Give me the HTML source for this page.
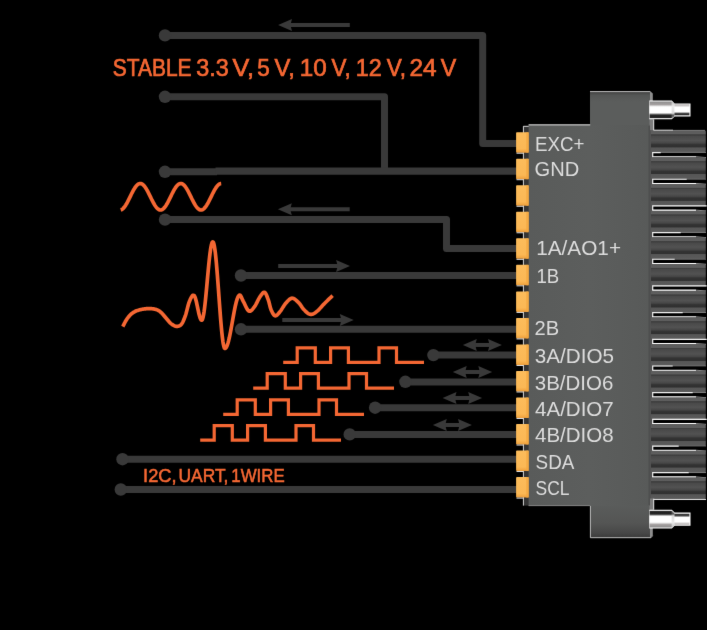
<!DOCTYPE html>
<html><head><meta charset="utf-8"><title>Connector pinout</title>
<style>html,body{margin:0;padding:0;background:#000;}body{width:707px;height:630px;overflow:hidden;}svg{display:block;}text{font-family:"Liberation Sans",sans-serif;}</style>
</head><body>
<svg width="707" height="630" viewBox="0 0 707 630">
<defs>
<linearGradient id="cab" x1="0" y1="0" x2="0" y2="1">
<stop offset="0" stop-color="#5c5c5c"/><stop offset="0.16" stop-color="#5e5e5e"/><stop offset="0.185" stop-color="#404040"/>
<stop offset="0.225" stop-color="#3f3f3f"/><stop offset="0.26" stop-color="#494949"/><stop offset="0.46" stop-color="#525252"/>
<stop offset="0.58" stop-color="#464646"/><stop offset="0.65" stop-color="#333333"/><stop offset="0.765" stop-color="#303030"/>
<stop offset="0.80" stop-color="#565656"/><stop offset="1" stop-color="#5a5a5a"/>
</linearGradient>
<linearGradient id="scrL" x1="0" y1="0" x2="0" y2="1">
<stop offset="0" stop-color="#8c8c8c"/><stop offset="0.18" stop-color="#a4a0a0"/><stop offset="0.3" stop-color="#f2f2f2"/><stop offset="0.36" stop-color="#ffffff"/>
<stop offset="0.66" stop-color="#ffffff"/><stop offset="0.74" stop-color="#a0a0a0"/><stop offset="0.8" stop-color="#262626"/>
<stop offset="0.95" stop-color="#1e1e1e"/><stop offset="1" stop-color="#777"/>
</linearGradient>
<linearGradient id="scrS" x1="0" y1="0" x2="0" y2="1">
<stop offset="0" stop-color="#b4b0b0"/><stop offset="0.14" stop-color="#cfcccc"/><stop offset="0.26" stop-color="#ffffff"/>
<stop offset="0.7" stop-color="#ffffff"/><stop offset="0.76" stop-color="#555"/><stop offset="0.9" stop-color="#2a2a2a"/><stop offset="1" stop-color="#999"/>
</linearGradient>
<linearGradient id="scrT" x1="0" y1="0" x2="0" y2="1">
<stop offset="0" stop-color="#c8c8c8"/><stop offset="0.3" stop-color="#e8e8e8"/><stop offset="0.7" stop-color="#d8d8d8"/><stop offset="0.82" stop-color="#555"/><stop offset="1" stop-color="#888"/>
</linearGradient>
<linearGradient id="pin" x1="0" y1="0" x2="0" y2="1">
<stop offset="0" stop-color="#fcbc5b"/><stop offset="0.8" stop-color="#fbb855"/><stop offset="0.93" stop-color="#f3a844"/><stop offset="1" stop-color="#e89a3a"/>
</linearGradient>
<linearGradient id="topblk" x1="0" y1="0" x2="0" y2="1">
<stop offset="0" stop-color="#3e3e3e"/><stop offset="0.12" stop-color="#545655"/><stop offset="0.3" stop-color="#5b5d5c"/><stop offset="1" stop-color="#5b5d5c"/>
</linearGradient>
<linearGradient id="botblk" x1="0" y1="0" x2="0" y2="1">
<stop offset="0" stop-color="#5a5c5b"/><stop offset="0.55" stop-color="#545554"/><stop offset="0.85" stop-color="#474747"/><stop offset="1" stop-color="#3a3a3a"/>
</linearGradient>
<linearGradient id="body" x1="0" y1="0" x2="1" y2="0">
<stop offset="0" stop-color="#595b5a"/><stop offset="0.5" stop-color="#5c5e5d"/><stop offset="1" stop-color="#585a59"/>
</linearGradient>
</defs>
<rect width="707" height="630" fill="#000"/>
<filter id="soft" x="0" y="0" width="707" height="630" filterUnits="userSpaceOnUse" color-interpolation-filters="sRGB"><feConvolveMatrix order="3" kernelMatrix="0 1 0 1 12 1 0 1 0" divisor="16" edgeMode="duplicate" preserveAlpha="false"/></filter>
<g filter="url(#soft)">
<path d="M165 35.4 H482.7 V143.4 H517" fill="none" stroke="#393939" stroke-width="7" stroke-linejoin="round"/>
<path d="M165 96.8 H384.5 V170.8" fill="none" stroke="#393939" stroke-width="7" stroke-linejoin="round"/>
<path d="M165 171.7 H217" fill="none" stroke="#393939" stroke-width="7" stroke-linejoin="round"/>
<path d="M215.5 171.1 H517" fill="none" stroke="#393939" stroke-width="7.3"/>
<path d="M165 219.6 H446.5 V248.6 H517" fill="none" stroke="#393939" stroke-width="7" stroke-linejoin="round"/>
<path d="M241 275.5 H517" fill="none" stroke="#393939" stroke-width="7" stroke-linejoin="round"/>
<path d="M241 329.2 H517" fill="none" stroke="#393939" stroke-width="7" stroke-linejoin="round"/>
<path d="M433.4 355.1 H517" fill="none" stroke="#393939" stroke-width="7" stroke-linejoin="round"/>
<path d="M405.4 382 H517" fill="none" stroke="#393939" stroke-width="7" stroke-linejoin="round"/>
<path d="M375.1 407.7 H517" fill="none" stroke="#393939" stroke-width="7" stroke-linejoin="round"/>
<path d="M349.7 434.4 H517" fill="none" stroke="#393939" stroke-width="7" stroke-linejoin="round"/>
<path d="M122.5 459.2 H517" fill="none" stroke="#393939" stroke-width="7" stroke-linejoin="round"/>
<path d="M120.8 489.5 H517" fill="none" stroke="#393939" stroke-width="7" stroke-linejoin="round"/>
<circle cx="165" cy="35.4" r="6.2" fill="#393939"/>
<circle cx="165" cy="96.8" r="6.2" fill="#393939"/>
<circle cx="165" cy="171.8" r="6.2" fill="#393939"/>
<circle cx="165" cy="219.6" r="6.2" fill="#393939"/>
<circle cx="241" cy="275.5" r="6.2" fill="#393939"/>
<circle cx="241" cy="329.3" r="6.2" fill="#393939"/>
<circle cx="433.4" cy="355.1" r="6.2" fill="#393939"/>
<circle cx="405.4" cy="381.8" r="6.2" fill="#393939"/>
<circle cx="375.1" cy="407.7" r="6.2" fill="#393939"/>
<circle cx="349.7" cy="434.4" r="6.2" fill="#393939"/>
<circle cx="122.5" cy="459.2" r="6.2" fill="#393939"/>
<circle cx="120.8" cy="489.5" r="6.2" fill="#393939"/>
<path d="M288.1 25.0 H349.8" stroke="#393939" stroke-width="4.0" fill="none"/>
<path d="M278.1 25.0 L292.0 19.0 L290.40000000000003 25.0 L292.0 31.0 Z" fill="#393939"/>
<path d="M287.9 209.2 H349.7" stroke="#393939" stroke-width="4.0" fill="none"/>
<path d="M277.9 209.2 L291.79999999999995 203.2 L290.2 209.2 L291.79999999999995 215.2 Z" fill="#393939"/>
<path d="M278.2 266 H340" stroke="#393939" stroke-width="4.0" fill="none"/>
<path d="M350 266 L336.1 260.0 L337.7 266 L336.1 272.0 Z" fill="#393939"/>
<path d="M282.3 320 H343.7" stroke="#393939" stroke-width="4.0" fill="none"/>
<path d="M353.7 320 L339.8 314.0 L341.4 320 L339.8 326.0 Z" fill="#393939"/>
<path d="M472.9 344.95 H491.9" stroke="#393939" stroke-width="4.0" fill="none"/>
<path d="M462.9 344.95 L476.79999999999995 338.95 L475.2 344.95 L476.79999999999995 350.95 ZM501.9 344.95 L488.0 338.95 L489.59999999999997 344.95 L488.0 350.95 Z" fill="#393939"/>
<path d="M462.8 372 H482.2" stroke="#393939" stroke-width="4.0" fill="none"/>
<path d="M452.8 372 L466.7 366.0 L465.1 372 L466.7 378.0 ZM492.2 372 L478.3 366.0 L479.9 372 L478.3 378.0 Z" fill="#393939"/>
<path d="M452.6 398 H472.1" stroke="#393939" stroke-width="4.0" fill="none"/>
<path d="M442.6 398 L456.5 392.0 L454.90000000000003 398 L456.5 404.0 ZM482.1 398 L468.20000000000005 392.0 L469.8 398 L468.20000000000005 404.0 Z" fill="#393939"/>
<path d="M442.9 425 H461.9" stroke="#393939" stroke-width="4.0" fill="none"/>
<path d="M432.9 425 L446.79999999999995 419.0 L445.2 425 L446.79999999999995 431.0 ZM471.9 425 L458.0 419.0 L459.59999999999997 425 L458.0 431.0 Z" fill="#393939"/>
<path d="M120.7 209.92 L121.2 209.77 L121.7 209.54 L122.2 209.24 L122.7 208.85 L123.2 208.40 L123.7 207.88 L124.2 207.29 L124.7 206.63 L125.2 205.92 L125.7 205.15 L126.2 204.33 L126.7 203.46 L127.2 202.56 L127.7 201.62 L128.2 200.65 L128.7 199.66 L129.2 198.64 L129.7 197.62 L130.2 196.60 L130.7 195.57 L131.2 194.55 L131.7 193.54 L132.2 192.56 L132.7 191.60 L133.2 190.67 L133.7 189.77 L134.2 188.92 L134.7 188.12 L135.2 187.36 L135.7 186.67 L136.2 186.03 L136.7 185.46 L137.2 184.96 L137.7 184.52 L138.2 184.16 L138.7 183.88 L139.2 183.68 L139.7 183.55 L140.2 183.50 L140.7 183.53 L141.2 183.64 L141.7 183.83 L142.2 184.10 L142.7 184.45 L143.2 184.86 L143.7 185.35 L144.2 185.91 L144.7 186.53 L145.2 187.22 L145.7 187.96 L146.2 188.76 L146.7 189.60 L147.2 190.48 L147.7 191.41 L148.2 192.36 L148.7 193.35 L149.2 194.35 L149.7 195.36 L150.2 196.39 L150.7 197.42 L151.2 198.44 L151.7 199.45 L152.2 200.45 L152.7 201.43 L153.2 202.37 L153.7 203.29 L154.2 204.16 L154.7 204.99 L155.2 205.77 L155.7 206.49 L156.2 207.16 L156.7 207.76 L157.2 208.30 L157.7 208.77 L158.2 209.17 L158.7 209.49 L159.2 209.73 L159.7 209.90 L160.2 209.99 L160.7 209.99 L161.2 209.92 L161.7 209.77 L162.2 209.54 L162.7 209.24 L163.2 208.85 L163.7 208.40 L164.2 207.88 L164.7 207.29 L165.2 206.63 L165.7 205.92 L166.2 205.15 L166.7 204.33 L167.2 203.46 L167.7 202.56 L168.2 201.62 L168.7 200.65 L169.2 199.66 L169.7 198.64 L170.2 197.62 L170.7 196.60 L171.2 195.57 L171.7 194.55 L172.2 193.54 L172.7 192.56 L173.2 191.60 L173.7 190.67 L174.2 189.77 L174.7 188.92 L175.2 188.12 L175.7 187.36 L176.2 186.67 L176.7 186.03 L177.2 185.46 L177.7 184.96 L178.2 184.52 L178.7 184.16 L179.2 183.88 L179.7 183.68 L180.2 183.55 L180.7 183.50 L181.2 183.53 L181.7 183.64 L182.2 183.83 L182.7 184.10 L183.2 184.45 L183.7 184.86 L184.2 185.35 L184.7 185.91 L185.2 186.53 L185.7 187.22 L186.2 187.96 L186.7 188.76 L187.2 189.60 L187.7 190.48 L188.2 191.41 L188.7 192.36 L189.2 193.35 L189.7 194.35 L190.2 195.36 L190.7 196.39 L191.2 197.42 L191.7 198.44 L192.2 199.45 L192.7 200.45 L193.2 201.43 L193.7 202.37 L194.2 203.29 L194.7 204.16 L195.2 204.99 L195.7 205.77 L196.2 206.49 L196.7 207.16 L197.2 207.76 L197.7 208.30 L198.2 208.77 L198.7 209.17 L199.2 209.49 L199.7 209.73 L200.2 209.90 L200.7 209.99 L201.2 209.99 L201.7 209.92 L202.2 209.77 L202.7 209.54 L203.2 209.24 L203.7 208.85 L204.2 208.40 L204.7 207.88 L205.2 207.29 L205.7 206.63 L206.2 205.92 L206.7 205.15 L207.2 204.33 L207.7 203.46 L208.2 202.56 L208.7 201.62 L209.2 200.65 L209.7 199.66 L210.2 198.64 L210.7 197.62 L211.2 196.60 L211.7 195.57 L212.2 194.55 L212.7 193.54 L213.2 192.56 L213.7 191.60 L214.2 190.67 L214.7 189.77 L215.2 188.92 L215.7 188.12 L216.2 187.36 L216.7 186.67 L217.2 186.03 L217.7 185.46 L218.2 184.96 L218.7 184.52 L219.2 184.16 L219.7 183.88 L220.2 183.68 L220.7 183.55 L221.2 183.50" fill="none" stroke="#f46733" stroke-width="3.7" stroke-linecap="butt" stroke-linejoin="round"/>
<path d="M122.80 326.60 L122.99 326.23 L123.23 325.76 L123.51 325.21 L123.83 324.59 L124.17 323.92 L124.53 323.21 L124.91 322.48 L125.31 321.74 L125.71 321.02 L126.11 320.33 L126.51 319.69 L126.90 319.10 L127.29 318.55 L127.68 318.02 L128.07 317.49 L128.48 316.97 L128.89 316.47 L129.31 315.98 L129.73 315.51 L130.17 315.05 L130.61 314.61 L131.06 314.18 L131.53 313.78 L132.00 313.40 L132.48 313.04 L132.96 312.70 L133.44 312.39 L133.92 312.09 L134.42 311.81 L134.93 311.54 L135.45 311.29 L135.99 311.06 L136.55 310.83 L137.14 310.61 L137.75 310.40 L138.40 310.20 L139.09 310.00 L139.82 309.81 L140.59 309.63 L141.38 309.46 L142.20 309.29 L143.03 309.14 L143.87 309.01 L144.71 308.89 L145.54 308.79 L146.35 308.70 L147.14 308.64 L147.90 308.60 L148.64 308.58 L149.39 308.58 L150.13 308.60 L150.87 308.63 L151.61 308.68 L152.32 308.75 L153.03 308.84 L153.71 308.94 L154.38 309.05 L155.02 309.19 L155.62 309.34 L156.20 309.50 L156.74 309.68 L157.24 309.87 L157.70 310.08 L158.14 310.30 L158.55 310.54 L158.95 310.79 L159.34 311.07 L159.72 311.36 L160.10 311.66 L160.49 311.99 L160.89 312.33 L161.30 312.70 L161.73 313.09 L162.15 313.52 L162.58 313.97 L163.00 314.45 L163.43 314.95 L163.85 315.46 L164.28 315.97 L164.70 316.49 L165.13 317.01 L165.55 317.52 L165.98 318.02 L166.40 318.50 L166.82 318.98 L167.25 319.47 L167.67 319.97 L168.09 320.47 L168.51 320.97 L168.94 321.46 L169.36 321.94 L169.79 322.41 L170.21 322.85 L170.64 323.27 L171.07 323.65 L171.50 324.00 L171.94 324.32 L172.38 324.63 L172.82 324.93 L173.27 325.21 L173.72 325.46 L174.17 325.69 L174.62 325.90 L175.06 326.07 L175.51 326.21 L175.94 326.31 L176.38 326.38 L176.80 326.40 L177.22 326.39 L177.64 326.35 L178.06 326.29 L178.47 326.19 L178.88 326.06 L179.29 325.89 L179.69 325.69 L180.09 325.44 L180.48 325.16 L180.86 324.82 L181.23 324.44 L181.60 324.00 L181.96 323.51 L182.30 322.97 L182.64 322.38 L182.97 321.74 L183.29 321.06 L183.61 320.34 L183.93 319.58 L184.24 318.79 L184.55 317.96 L184.87 317.10 L185.18 316.21 L185.50 315.30 L185.82 314.32 L186.13 313.25 L186.45 312.10 L186.76 310.90 L187.07 309.66 L187.38 308.41 L187.69 307.17 L188.00 305.96 L188.32 304.80 L188.64 303.70 L188.97 302.70 L189.30 301.80 L189.64 300.96 L189.99 300.12 L190.35 299.30 L190.71 298.51 L191.07 297.77 L191.44 297.09 L191.80 296.50 L192.17 296.00 L192.53 295.61 L192.89 295.36 L193.25 295.25 L193.60 295.30 L193.60 295.30 L193.94 295.41 L194.28 295.72 L194.61 296.25 L194.95 296.97 L195.29 297.87 L195.62 298.95 L195.96 300.17 L196.30 301.52 L196.64 302.99 L196.97 304.53 L197.31 306.12 L197.65 307.75 L197.99 309.38 L198.32 310.97 L198.66 312.51 L199.00 313.97 L199.34 315.33 L199.67 316.55 L200.01 317.63 L200.35 318.53 L200.69 319.25 L201.02 319.78 L201.36 320.09 L201.70 320.20 L202.16 319.86 L202.62 318.86 L203.09 317.22 L203.55 314.95 L204.01 312.10 L204.47 308.72 L204.94 304.86 L205.40 300.60 L205.86 296.00 L206.32 291.15 L206.79 286.12 L207.25 281.00 L207.71 275.88 L208.18 270.85 L208.64 266.00 L209.10 261.40 L209.56 257.14 L210.03 253.28 L210.49 249.90 L210.95 247.05 L211.41 244.78 L211.88 243.14 L212.34 242.14 L212.80 241.80 L213.30 242.26 L213.81 243.62 L214.31 245.86 L214.82 248.95 L215.32 252.82 L215.83 257.43 L216.33 262.67 L216.83 268.48 L217.34 274.73 L217.84 281.34 L218.35 288.19 L218.85 295.15 L219.35 302.11 L219.86 308.96 L220.36 315.57 L220.87 321.82 L221.37 327.63 L221.88 332.87 L222.38 337.48 L222.88 341.35 L223.39 344.44 L223.89 346.68 L224.40 348.04 L224.90 348.50 L225.52 348.27 L226.14 347.59 L226.76 346.46 L227.38 344.92 L228.00 342.97 L228.62 340.67 L229.25 338.03 L229.87 335.12 L230.49 331.99 L231.11 328.67 L231.73 325.24 L232.35 321.75 L232.97 318.26 L233.59 314.83 L234.21 311.51 L234.83 308.38 L235.45 305.47 L236.08 302.83 L236.70 300.53 L237.32 298.58 L237.94 297.04 L238.56 295.91 L239.18 295.23 L239.80 295.00 L240.08 295.16 L240.36 295.44 L240.63 295.81 L240.91 296.27 L241.18 296.81 L241.46 297.40 L241.75 298.04 L242.05 298.71 L242.36 299.41 L242.69 300.12 L243.03 300.82 L243.40 301.50 L243.79 302.24 L244.21 303.08 L244.64 304.01 L245.09 304.99 L245.56 305.98 L246.03 306.97 L246.51 307.93 L247.00 308.81 L247.48 309.60 L247.96 310.27 L248.44 310.78 L248.90 311.10 L249.36 311.25 L249.82 311.25 L250.28 311.13 L250.73 310.90 L251.19 310.58 L251.65 310.17 L252.11 309.69 L252.57 309.16 L253.03 308.59 L253.48 308.00 L253.94 307.40 L254.40 306.80 L254.86 306.15 L255.33 305.41 L255.80 304.59 L256.27 303.72 L256.74 302.80 L257.21 301.87 L257.67 300.93 L258.13 300.01 L258.59 299.13 L259.04 298.31 L259.47 297.56 L259.90 296.90 L260.32 296.29 L260.73 295.69 L261.13 295.10 L261.53 294.53 L261.93 294.01 L262.31 293.52 L262.69 293.10 L263.07 292.76 L263.43 292.49 L263.80 292.32 L264.15 292.25 L264.50 292.30 L264.84 292.48 L265.18 292.79 L265.50 293.22 L265.83 293.74 L266.14 294.34 L266.45 295.01 L266.75 295.74 L267.05 296.50 L267.35 297.28 L267.63 298.07 L267.92 298.85 L268.20 299.60 L268.47 300.37 L268.73 301.21 L268.98 302.09 L269.21 303.01 L269.45 303.95 L269.68 304.89 L269.91 305.84 L270.15 306.76 L270.40 307.65 L270.65 308.50 L270.92 309.28 L271.20 310.00 L271.50 310.68 L271.80 311.35 L272.11 312.01 L272.42 312.65 L272.75 313.26 L273.07 313.82 L273.41 314.34 L273.76 314.79 L274.11 315.18 L274.46 315.48 L274.83 315.69 L275.20 315.80 L275.58 315.80 L275.97 315.70 L276.37 315.50 L276.77 315.23 L277.19 314.88 L277.61 314.47 L278.03 314.01 L278.46 313.52 L278.89 313.00 L279.33 312.47 L279.76 311.93 L280.20 311.40 L280.64 310.84 L281.08 310.23 L281.52 309.56 L281.96 308.86 L282.41 308.14 L282.86 307.39 L283.32 306.65 L283.78 305.91 L284.25 305.20 L284.73 304.52 L285.21 303.88 L285.70 303.30 L286.20 302.74 L286.71 302.17 L287.23 301.59 L287.76 301.03 L288.30 300.48 L288.84 299.97 L289.38 299.50 L289.93 299.09 L290.47 298.74 L291.02 298.47 L291.56 298.28 L292.10 298.20 L292.64 298.23 L293.19 298.35 L293.74 298.57 L294.30 298.86 L294.85 299.22 L295.41 299.63 L295.96 300.09 L296.50 300.57 L297.04 301.08 L297.57 301.59 L298.09 302.11 L298.60 302.60 L299.09 303.11 L299.56 303.67 L300.02 304.26 L300.47 304.89 L300.92 305.53 L301.36 306.19 L301.80 306.84 L302.24 307.49 L302.69 308.12 L303.14 308.72 L303.61 309.28 L304.10 309.80 L304.60 310.30 L305.11 310.81 L305.64 311.31 L306.17 311.81 L306.70 312.29 L307.24 312.74 L307.79 313.15 L308.33 313.53 L308.88 313.85 L309.42 314.10 L309.96 314.29 L310.50 314.40 L311.03 314.43 L311.56 314.39 L312.08 314.29 L312.60 314.14 L313.12 313.93 L313.64 313.67 L314.16 313.37 L314.69 313.03 L315.23 312.66 L315.78 312.26 L316.33 311.84 L316.90 311.40 L317.48 310.92 L318.07 310.39 L318.66 309.81 L319.26 309.20 L319.87 308.55 L320.48 307.87 L321.10 307.17 L321.73 306.47 L322.36 305.76 L323.00 305.06 L323.65 304.37 L324.30 303.70 L324.99 303.01 L325.73 302.28 L326.51 301.51 L327.31 300.73 L328.11 299.94 L328.91 299.17 L329.68 298.42 L330.41 297.71 L331.09 297.06 L331.69 296.49 L332.20 295.99 L332.60 295.60" fill="none" stroke="#f46733" stroke-width="3.7" stroke-linecap="butt" stroke-linejoin="round"/>
<path d="M283.2 362.4 H297.2 V347.9 H315.3 V362.4 H330.6 V347.9 H348.4 V362.4 H379.0 V347.9 H396.5 V362.4 H424.0" fill="none" stroke="#f46733" stroke-width="3.2" stroke-linejoin="miter"/>
<path d="M253.2 388.2 H267.2 V373.6 H285.3 V388.2 H300.6 V373.6 H318.4 V388.2 H349.0 V373.6 H366.5 V388.2 H394.0" fill="none" stroke="#f46733" stroke-width="3.2" stroke-linejoin="miter"/>
<path d="M223.2 414.4 H237.2 V399.9 H255.3 V414.4 H270.6 V399.9 H288.4 V414.4 H319.0 V399.9 H336.5 V414.4 H364.0" fill="none" stroke="#f46733" stroke-width="3.2" stroke-linejoin="miter"/>
<path d="M200.2 440.2 H214.2 V425.6 H232.3 V440.2 H247.60000000000002 V425.6 H265.4 V440.2 H296.0 V425.6 H313.5 V440.2 H341.0" fill="none" stroke="#f46733" stroke-width="3.2" stroke-linejoin="miter"/>
<text x="112.66" y="76.40" font-size="24.4" fill="#f46733" textLength="78.92" lengthAdjust="spacingAndGlyphs" stroke="#f46733" stroke-width="0.7">STABLE</text>
<text x="196.21" y="76.40" font-size="24.4" fill="#f46733" textLength="32.50" lengthAdjust="spacingAndGlyphs" stroke="#f46733" stroke-width="0.7">3.3</text>
<text x="232.60" y="76.40" font-size="24.4" fill="#f46733" textLength="21.47" lengthAdjust="spacingAndGlyphs" stroke="#f46733" stroke-width="0.7">V,</text>
<text x="257.30" y="76.40" font-size="24.4" fill="#f46733" textLength="12.53" lengthAdjust="spacingAndGlyphs" stroke="#f46733" stroke-width="0.7">5</text>
<text x="274.61" y="76.40" font-size="24.4" fill="#f46733" textLength="20.23" lengthAdjust="spacingAndGlyphs" stroke="#f46733" stroke-width="0.7">V,</text>
<text x="299.76" y="76.40" font-size="24.4" fill="#f46733" textLength="26.97" lengthAdjust="spacingAndGlyphs" stroke="#f46733" stroke-width="0.7">10</text>
<text x="331.61" y="76.40" font-size="24.4" fill="#f46733" textLength="19.11" lengthAdjust="spacingAndGlyphs" stroke="#f46733" stroke-width="0.7">V,</text>
<text x="355.83" y="76.40" font-size="24.4" fill="#f46733" textLength="25.95" lengthAdjust="spacingAndGlyphs" stroke="#f46733" stroke-width="0.7">12</text>
<text x="386.81" y="76.40" font-size="24.4" fill="#f46733" textLength="19.22" lengthAdjust="spacingAndGlyphs" stroke="#f46733" stroke-width="0.7">V,</text>
<text x="409.38" y="76.40" font-size="24.4" fill="#f46733" textLength="27.13" lengthAdjust="spacingAndGlyphs" stroke="#f46733" stroke-width="0.7">24</text>
<text x="440.81" y="76.40" font-size="24.4" fill="#f46733" textLength="15.49" lengthAdjust="spacingAndGlyphs" stroke="#f46733" stroke-width="0.7">V</text>
<text x="143.12" y="481.50" font-size="18.8" fill="#f46733" textLength="33.42" lengthAdjust="spacingAndGlyphs" stroke="#f46733" stroke-width="0.55">I2C,</text>
<text x="178.56" y="481.50" font-size="18.8" fill="#f46733" textLength="49.90" lengthAdjust="spacingAndGlyphs" stroke="#f46733" stroke-width="0.55">UART,</text>
<text x="231.32" y="481.50" font-size="18.8" fill="#f46733" textLength="53.39" lengthAdjust="spacingAndGlyphs" stroke="#f46733" stroke-width="0.55">1WIRE</text>
<rect x="648.5" y="130.6" width="4.5" height="368.34" fill="#525252"/>
<rect x="651" y="130.60" width="54.8" height="21.5" rx="1.0" fill="url(#cab)"/>
<rect x="652.6" y="152.60" width="56" height="4.18" fill="#000"/>
<path d="M706 152.40 H652.7" fill="none" stroke="#8c8c8c" stroke-width="0.9"/>
<path d="M660.7 152.55 H652.7 V156.83" fill="none" stroke="#f0f0f0" stroke-width="1.2"/>
<path d="M652.2 156.88 H696" fill="none" stroke="#ffffff" stroke-width="1.35"/>
<path d="M696 156.78 L706 157.58" fill="none" stroke="#a8a8a8" stroke-width="0.9"/>
<rect x="651" y="157.28" width="54.8" height="21.5" rx="1.0" fill="url(#cab)"/>
<rect x="652.6" y="179.28" width="56" height="4.18" fill="#000"/>
<path d="M706 179.08 H652.7" fill="none" stroke="#8c8c8c" stroke-width="0.9"/>
<path d="M686.7 179.23 H652.7 V183.51" fill="none" stroke="#f0f0f0" stroke-width="1.2"/>
<path d="M652.2 183.56 H696" fill="none" stroke="#ffffff" stroke-width="1.35"/>
<path d="M696 183.46 L706 184.26" fill="none" stroke="#a8a8a8" stroke-width="0.9"/>
<rect x="651" y="183.96" width="54.8" height="21.5" rx="1.0" fill="url(#cab)"/>
<rect x="652.6" y="205.96" width="56" height="4.18" fill="#000"/>
<path d="M706 205.76 H652.7" fill="none" stroke="#8c8c8c" stroke-width="0.9"/>
<path d="M706.7 205.91 H652.7 V210.19" fill="none" stroke="#f0f0f0" stroke-width="1.2"/>
<path d="M652.2 210.24 H696" fill="none" stroke="#ffffff" stroke-width="1.35"/>
<path d="M696 210.14 L706 210.94" fill="none" stroke="#a8a8a8" stroke-width="0.9"/>
<rect x="651" y="210.64" width="54.8" height="21.5" rx="1.0" fill="url(#cab)"/>
<rect x="652.6" y="232.64" width="56" height="4.18" fill="#000"/>
<path d="M706 232.44 H652.7" fill="none" stroke="#8c8c8c" stroke-width="0.9"/>
<path d="M680.7 232.59 H652.7 V236.87" fill="none" stroke="#f0f0f0" stroke-width="1.2"/>
<path d="M652.2 236.92 H696" fill="none" stroke="#ffffff" stroke-width="1.35"/>
<path d="M696 236.82 L706 237.62" fill="none" stroke="#a8a8a8" stroke-width="0.9"/>
<rect x="651" y="237.32" width="54.8" height="21.5" rx="1.0" fill="url(#cab)"/>
<rect x="652.6" y="259.32" width="56" height="4.18" fill="#000"/>
<path d="M706 259.12 H652.7" fill="none" stroke="#8c8c8c" stroke-width="0.9"/>
<path d="M674.7 259.27 H652.7 V263.55" fill="none" stroke="#f0f0f0" stroke-width="1.2"/>
<path d="M652.2 263.60 H696" fill="none" stroke="#ffffff" stroke-width="1.35"/>
<path d="M696 263.50 L706 264.30" fill="none" stroke="#a8a8a8" stroke-width="0.9"/>
<rect x="651" y="264.00" width="54.8" height="21.5" rx="1.0" fill="url(#cab)"/>
<rect x="652.6" y="286.00" width="56" height="4.18" fill="#000"/>
<path d="M706 285.80 H652.7" fill="none" stroke="#8c8c8c" stroke-width="0.9"/>
<path d="M706.7 285.95 H652.7 V290.23" fill="none" stroke="#f0f0f0" stroke-width="1.2"/>
<path d="M652.2 290.28 H696" fill="none" stroke="#ffffff" stroke-width="1.35"/>
<path d="M696 290.18 L706 290.98" fill="none" stroke="#a8a8a8" stroke-width="0.9"/>
<rect x="651" y="290.68" width="54.8" height="21.5" rx="1.0" fill="url(#cab)"/>
<rect x="652.6" y="312.68" width="56" height="4.18" fill="#000"/>
<path d="M706 312.48 H652.7" fill="none" stroke="#8c8c8c" stroke-width="0.9"/>
<path d="M682.7 312.63 H652.7 V316.91" fill="none" stroke="#f0f0f0" stroke-width="1.2"/>
<path d="M652.2 316.96 H696" fill="none" stroke="#ffffff" stroke-width="1.35"/>
<path d="M696 316.86 L706 317.66" fill="none" stroke="#a8a8a8" stroke-width="0.9"/>
<rect x="651" y="317.36" width="54.8" height="21.5" rx="1.0" fill="url(#cab)"/>
<rect x="652.6" y="339.36" width="56" height="4.18" fill="#000"/>
<path d="M706 339.16 H652.7" fill="none" stroke="#8c8c8c" stroke-width="0.9"/>
<path d="M706.7 339.31 H652.7 V343.59" fill="none" stroke="#f0f0f0" stroke-width="1.2"/>
<path d="M652.2 343.64 H696" fill="none" stroke="#ffffff" stroke-width="1.35"/>
<path d="M696 343.54 L706 344.34" fill="none" stroke="#a8a8a8" stroke-width="0.9"/>
<rect x="651" y="344.04" width="54.8" height="21.5" rx="1.0" fill="url(#cab)"/>
<rect x="652.6" y="366.04" width="56" height="4.18" fill="#000"/>
<path d="M706 365.84 H652.7" fill="none" stroke="#8c8c8c" stroke-width="0.9"/>
<path d="M672.7 365.99 H652.7 V370.27" fill="none" stroke="#f0f0f0" stroke-width="1.2"/>
<path d="M652.2 370.32 H696" fill="none" stroke="#ffffff" stroke-width="1.35"/>
<path d="M696 370.22 L706 371.02" fill="none" stroke="#a8a8a8" stroke-width="0.9"/>
<rect x="651" y="370.72" width="54.8" height="21.5" rx="1.0" fill="url(#cab)"/>
<rect x="652.6" y="392.72" width="56" height="4.18" fill="#000"/>
<path d="M706 392.52 H652.7" fill="none" stroke="#8c8c8c" stroke-width="0.9"/>
<path d="M692.7 392.67 H652.7 V396.95" fill="none" stroke="#f0f0f0" stroke-width="1.2"/>
<path d="M652.2 397.00 H696" fill="none" stroke="#ffffff" stroke-width="1.35"/>
<path d="M696 396.90 L706 397.70" fill="none" stroke="#a8a8a8" stroke-width="0.9"/>
<rect x="651" y="397.40" width="54.8" height="21.5" rx="1.0" fill="url(#cab)"/>
<rect x="652.6" y="419.40" width="56" height="4.18" fill="#000"/>
<path d="M706 419.20 H652.7" fill="none" stroke="#8c8c8c" stroke-width="0.9"/>
<path d="M706.7 419.35 H652.7 V423.63" fill="none" stroke="#f0f0f0" stroke-width="1.2"/>
<path d="M652.2 423.68 H696" fill="none" stroke="#ffffff" stroke-width="1.35"/>
<path d="M696 423.58 L706 424.38" fill="none" stroke="#a8a8a8" stroke-width="0.9"/>
<rect x="651" y="424.08" width="54.8" height="21.5" rx="1.0" fill="url(#cab)"/>
<rect x="652.6" y="446.08" width="56" height="4.18" fill="#000"/>
<path d="M706 445.88 H652.7" fill="none" stroke="#8c8c8c" stroke-width="0.9"/>
<path d="M678.7 446.03 H652.7 V450.31" fill="none" stroke="#f0f0f0" stroke-width="1.2"/>
<path d="M652.2 450.36 H696" fill="none" stroke="#ffffff" stroke-width="1.35"/>
<path d="M696 450.26 L706 451.06" fill="none" stroke="#a8a8a8" stroke-width="0.9"/>
<rect x="651" y="450.76" width="54.8" height="21.5" rx="1.0" fill="url(#cab)"/>
<rect x="652.6" y="472.76" width="56" height="4.18" fill="#000"/>
<path d="M706 472.56 H652.7" fill="none" stroke="#8c8c8c" stroke-width="0.9"/>
<path d="M688.7 472.71 H652.7 V476.99" fill="none" stroke="#f0f0f0" stroke-width="1.2"/>
<path d="M652.2 477.04 H696" fill="none" stroke="#ffffff" stroke-width="1.35"/>
<path d="M696 476.94 L706 477.74" fill="none" stroke="#a8a8a8" stroke-width="0.9"/>
<rect x="651" y="477.44" width="54.8" height="21.5" rx="1.0" fill="url(#cab)"/>
<path d="M653.6 130.20 H673" fill="none" stroke="#e8e8e8" stroke-width="1"/>
<path d="M673 130.40 H705" fill="none" stroke="#8a8a8a" stroke-width="0.9"/>
<path d="M653.6 499.44 H706" fill="none" stroke="#e8e8e8" stroke-width="1"/>
<path d="M590 91.2 H650.6 V126 H590 Z" fill="url(#topblk)"/>
<path d="M590 91.6 H650.4" fill="none" stroke="#c9c9c9" stroke-width="0.9"/>
<path d="M590 505 H650.6 V537.9 H590 Z" fill="url(#botblk)"/>
<path d="M590.4 506 V537.7 H651 L652.6 535.6" fill="none" stroke="#c4c4c4" stroke-width="0.9"/>
<path d="M590 125.6 H649.8" fill="none" stroke="#666867" stroke-width="0.9"/>
<g>
<path d="M650 92 H651.2 L652.8 93.6 V101 H650 Z" fill="#8e8e8e"/>
<path d="M649.5 119 H653.2 V130.6 H649.5 Z" fill="#7c7c7c"/>
<path d="M653.7 119.3 V130.4" fill="none" stroke="#f2f2f2" stroke-width="1"/>
<path d="M649.3 100.6 H671.8 L674.6 103.4 H690.5 V116.5 H674.6 L671.8 119.3 H649.3 Z" fill="#fff"/>
<path d="M649.6 101.5 H671.6 L673.6 103.6 V116.2 L671.6 118.3 H649.6 Z" fill="url(#scrL)"/>
<path d="M674.2 104.3 H689.4 V115.6 H674.2 Z" fill="url(#scrS)"/>
<path d="M671.6 101.5 L674.4 104.3 V115.6 L671.6 118.3 Z" fill="url(#scrT)" opacity="0.9"/>
</g>
<g transform="translate(0,629.1) scale(1,-1)">
<path d="M650 92 H651.2 L652.8 93.6 V101 H650 Z" fill="#8e8e8e"/>
<path d="M649.5 119 H653.2 V130.6 H649.5 Z" fill="#7c7c7c"/>
<path d="M653.7 119.3 V130.4" fill="none" stroke="#f2f2f2" stroke-width="1"/>
<path d="M649.3 100.6 H671.8 L674.6 103.4 H690.5 V116.5 H674.6 L671.8 119.3 H649.3 Z" fill="#fff"/>
<path d="M649.6 101.5 H671.6 L673.6 103.6 V116.2 L671.6 118.3 H649.6 Z" fill="url(#scrL)"/>
<path d="M674.2 104.3 H689.4 V115.6 H674.2 Z" fill="url(#scrS)"/>
<path d="M671.6 101.5 L674.4 104.3 V115.6 L671.6 118.3 Z" fill="url(#scrT)" opacity="0.9"/>
</g>
<rect x="523.2" y="126" width="6" height="379.6" fill="#353535"/>
<path d="M523.4 505.6 V126.3 H529" fill="none" stroke="#e6e6e6" stroke-width="0.9"/>
<rect x="528.6" y="124.8" width="121.3" height="381" fill="url(#body)"/>
<rect x="528.6" y="124.3" width="61.6" height="1.1" fill="#d6d6d6"/>
<rect x="528.6" y="505.2" width="61.6" height="0.9" fill="#8a8a8a"/>
<rect x="648.6" y="126" width="1.2" height="379" fill="#4c4c4c"/>
<rect x="516.1" y="132.20" width="12.6" height="20.5" rx="0.8" fill="url(#pin)"/>
<rect x="526.3" y="132.20" width="2.4" height="20.5" fill="#f3a640" opacity="0.8"/>
<rect x="516.5" y="152.75" width="6.8" height="0.9" fill="#f6f6f6"/>
<rect x="516.1" y="158.73" width="12.6" height="20.5" rx="0.8" fill="url(#pin)"/>
<rect x="526.3" y="158.73" width="2.4" height="20.5" fill="#f3a640" opacity="0.8"/>
<rect x="516.5" y="179.28" width="6.8" height="0.9" fill="#f6f6f6"/>
<rect x="516.1" y="185.26" width="12.6" height="20.5" rx="0.8" fill="url(#pin)"/>
<rect x="526.3" y="185.26" width="2.4" height="20.5" fill="#f3a640" opacity="0.8"/>
<rect x="516.5" y="205.81" width="6.8" height="0.9" fill="#f6f6f6"/>
<rect x="516.1" y="211.79" width="12.6" height="20.5" rx="0.8" fill="url(#pin)"/>
<rect x="526.3" y="211.79" width="2.4" height="20.5" fill="#f3a640" opacity="0.8"/>
<rect x="516.5" y="232.34" width="6.8" height="0.9" fill="#f6f6f6"/>
<rect x="516.1" y="238.32" width="12.6" height="20.5" rx="0.8" fill="url(#pin)"/>
<rect x="526.3" y="238.32" width="2.4" height="20.5" fill="#f3a640" opacity="0.8"/>
<rect x="516.5" y="258.87" width="6.8" height="0.9" fill="#f6f6f6"/>
<rect x="516.1" y="264.85" width="12.6" height="20.5" rx="0.8" fill="url(#pin)"/>
<rect x="526.3" y="264.85" width="2.4" height="20.5" fill="#f3a640" opacity="0.8"/>
<rect x="516.5" y="285.40" width="6.8" height="0.9" fill="#f6f6f6"/>
<rect x="516.1" y="291.38" width="12.6" height="20.5" rx="0.8" fill="url(#pin)"/>
<rect x="526.3" y="291.38" width="2.4" height="20.5" fill="#f3a640" opacity="0.8"/>
<rect x="516.5" y="311.93" width="6.8" height="0.9" fill="#f6f6f6"/>
<rect x="516.1" y="317.91" width="12.6" height="20.5" rx="0.8" fill="url(#pin)"/>
<rect x="526.3" y="317.91" width="2.4" height="20.5" fill="#f3a640" opacity="0.8"/>
<rect x="516.5" y="338.46" width="6.8" height="0.9" fill="#f6f6f6"/>
<rect x="516.1" y="344.44" width="12.6" height="20.5" rx="0.8" fill="url(#pin)"/>
<rect x="526.3" y="344.44" width="2.4" height="20.5" fill="#f3a640" opacity="0.8"/>
<rect x="516.5" y="364.99" width="6.8" height="0.9" fill="#f6f6f6"/>
<rect x="516.1" y="370.97" width="12.6" height="20.5" rx="0.8" fill="url(#pin)"/>
<rect x="526.3" y="370.97" width="2.4" height="20.5" fill="#f3a640" opacity="0.8"/>
<rect x="516.5" y="391.52" width="6.8" height="0.9" fill="#f6f6f6"/>
<rect x="516.1" y="397.50" width="12.6" height="20.5" rx="0.8" fill="url(#pin)"/>
<rect x="526.3" y="397.50" width="2.4" height="20.5" fill="#f3a640" opacity="0.8"/>
<rect x="516.5" y="418.05" width="6.8" height="0.9" fill="#f6f6f6"/>
<rect x="516.1" y="424.03" width="12.6" height="20.5" rx="0.8" fill="url(#pin)"/>
<rect x="526.3" y="424.03" width="2.4" height="20.5" fill="#f3a640" opacity="0.8"/>
<rect x="516.5" y="444.58" width="6.8" height="0.9" fill="#f6f6f6"/>
<rect x="516.1" y="450.56" width="12.6" height="20.5" rx="0.8" fill="url(#pin)"/>
<rect x="526.3" y="450.56" width="2.4" height="20.5" fill="#f3a640" opacity="0.8"/>
<rect x="516.5" y="471.11" width="6.8" height="0.9" fill="#f6f6f6"/>
<rect x="516.1" y="477.09" width="12.6" height="20.5" rx="0.8" fill="url(#pin)"/>
<rect x="526.3" y="477.09" width="2.4" height="20.5" fill="#f3a640" opacity="0.8"/>
<rect x="516.5" y="497.64" width="6.8" height="0.9" fill="#f6f6f6"/>
<text x="534.96" y="150.90" font-size="19.8" fill="#dcdcdc" textLength="49.46" lengthAdjust="spacingAndGlyphs">EXC+</text>
<text x="534.59" y="175.90" font-size="19.8" fill="#dcdcdc" textLength="44.76" lengthAdjust="spacingAndGlyphs">GND</text>
<text x="536.22" y="254.90" font-size="19.8" fill="#dcdcdc" textLength="84.79" lengthAdjust="spacingAndGlyphs">1A/AO1+</text>
<text x="536.38" y="282.60" font-size="19.8" fill="#dcdcdc" textLength="22.79" lengthAdjust="spacingAndGlyphs">1B</text>
<text x="534.59" y="334.60" font-size="19.8" fill="#dcdcdc" textLength="24.66" lengthAdjust="spacingAndGlyphs">2B</text>
<text x="534.81" y="363.40" font-size="19.8" fill="#dcdcdc" textLength="79.23" lengthAdjust="spacingAndGlyphs">3A/DIO5</text>
<text x="534.82" y="389.60" font-size="19.8" fill="#dcdcdc" textLength="78.46" lengthAdjust="spacingAndGlyphs">3B/DIO6</text>
<text x="535.05" y="415.60" font-size="19.8" fill="#dcdcdc" textLength="78.68" lengthAdjust="spacingAndGlyphs">4A/DIO7</text>
<text x="535.05" y="442.30" font-size="19.8" fill="#dcdcdc" textLength="78.53" lengthAdjust="spacingAndGlyphs">4B/DIO8</text>
<text x="535.55" y="468.90" font-size="19.8" fill="#dcdcdc" textLength="38.79" lengthAdjust="spacingAndGlyphs">SDA</text>
<text x="535.61" y="494.50" font-size="19.8" fill="#dcdcdc" textLength="33.97" lengthAdjust="spacingAndGlyphs">SCL</text>
</g></svg></body></html>
